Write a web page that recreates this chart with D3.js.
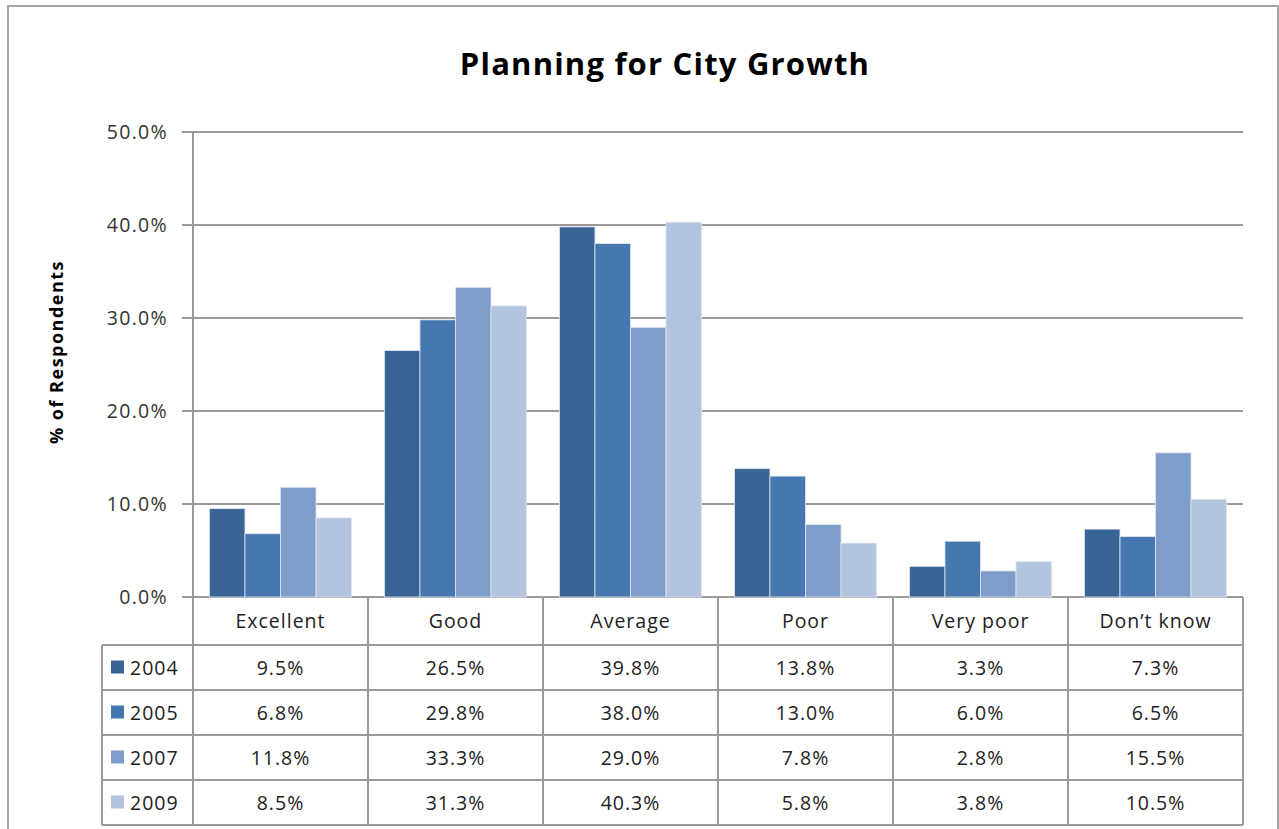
<!DOCTYPE html>
<html>
<head>
<meta charset="utf-8">
<script src="https://cdn.jsdelivr.net/npm/d3@7"></script>
<style>
  html, body { margin: 0; padding: 0; background: #fff; }
  svg { display: block; }
  text { font-family: "Open Sans", Lato, sans-serif; }
</style>
</head>
<body>
<svg id="chart" width="1279" height="829"></svg>
<script>
const categories = ["Excellent", "Good", "Average", "Poor", "Very poor", "Don\u2019t know"];
const years = ["2004", "2005", "2007", "2009"];
const v2004 = [9.5, 26.5, 39.8, 13.8, 3.3, 7.3];
const v2005 = [6.8, 29.8, 38.0, 13.0, 6.0, 6.5];
const v2007 = [11.8, 33.3, 29.0, 7.8, 2.8, 15.5];
const v2009 = [8.5, 31.3, 40.3, 5.8, 3.8, 10.5];
const yTicks = [0, 10, 20, 30, 40, 50];
const colors = ["#3b6496", "#4677b0", "#7e9dc8", "#b4c4df"];

const seriesVals = [v2004, v2005, v2007, v2009];
const series = years.map((y, i) => ({ year: y, values: seriesVals[i], color: colors[i] }));

const svg = d3.select("#chart");
const L = 193, R = 1243, T = 132, B = 597;
const grid = "#9a9a9a";
const FS = 19.5;
const LS = 1;

// outer frame
svg.append("rect").attr("x", 8).attr("y", 6).attr("width", 1270).attr("height", 840)
  .attr("fill", "#fff").attr("stroke", "#a6a6a6").attr("stroke-width", 2);

const x = d3.scaleBand().domain(categories).range([L, R]).padding(0);
const xi = d3.scaleBand().domain(years)
  .range([x.bandwidth() * 0.094, x.bandwidth() * 0.906]).padding(0);
const y = d3.scaleLinear().domain([0, 50]).range([B, T]);

// gridlines
svg.append("g").selectAll("line").data(yTicks).join("line")
  .attr("x1", L - 11).attr("x2", R)
  .attr("y1", d => y(d)).attr("y2", d => y(d))
  .attr("stroke", grid).attr("stroke-width", 2);

// y axis line
svg.append("line").attr("x1", L).attr("x2", L).attr("y1", T).attr("y2", B)
  .attr("stroke", grid).attr("stroke-width", 2);

// y axis labels
const yAxis = d3.axisLeft(y).tickValues(yTicks).tickFormat(d => d3.format(".1f")(d) + "%").tickSize(0).tickPadding(25);
const ga = svg.append("g").attr("transform", `translate(${L},0)`).call(yAxis);
ga.select(".domain").remove();
ga.selectAll("text").attr("font-size", FS).attr("fill", "#333")
  .attr("font-family", "'Open Sans', sans-serif").attr("letter-spacing", LS + 0.3);

// bars
const groups = svg.append("g").selectAll("g").data(categories).join("g")
  .attr("transform", d => `translate(${x(d)},0)`);
groups.selectAll("rect").data((c, ci) => series.map(s => ({ year: s.year, v: s.values[ci], color: s.color })))
  .join("rect")
  .attr("x", d => xi(d.year))
  .attr("width", xi.bandwidth())
  .attr("y", d => y(d.v))
  .attr("height", d => y(0) - y(d.v))
  .attr("fill", d => d.color)
  .attr("stroke", "#dfe6f1").attr("stroke-width", 0.8);

// title
svg.append("text").attr("x", 665).attr("y", 75).attr("text-anchor", "middle")
  .attr("font-size", 31).attr("font-weight", "bold").attr("fill", "#000")
  .attr("letter-spacing", 1.2)
  .text("Planning for City Growth");

// y axis title
svg.append("text").attr("transform", "translate(63,352) rotate(-90)")
  .attr("text-anchor", "middle").attr("font-size", 18).attr("font-weight", "bold")
  .attr("fill", "#000").attr("letter-spacing", 1.5).text("% of Respondents");

// data table
const tableL = 102, headerB = 645, rowH = 45;
const tg = svg.append("g");
tg.selectAll("text.cat").data(categories).join("text")
  .attr("class", "cat")
  .attr("x", d => x(d) + x.bandwidth() / 2).attr("y", 628)
  .attr("text-anchor", "middle").attr("font-size", FS).attr("fill", "#222")
  .attr("letter-spacing", LS)
  .text(d => d);
const vlines = categories.map(c => x(c)).concat([R]);
tg.selectAll("line.hv").data(vlines).join("line")
  .attr("x1", d => d).attr("x2", d => d).attr("y1", B).attr("y2", headerB + rowH * 4)
  .attr("stroke", grid).attr("stroke-width", 2);
tg.append("line").attr("x1", tableL).attr("x2", tableL).attr("y1", headerB).attr("y2", headerB + rowH * 4)
  .attr("stroke", grid).attr("stroke-width", 2);
tg.selectAll("line.h").data(d3.range(5)).join("line")
  .attr("x1", tableL).attr("x2", R)
  .attr("y1", i => headerB + i * rowH).attr("y2", i => headerB + i * rowH)
  .attr("stroke", grid).attr("stroke-width", 2);
const rows = tg.selectAll("g.row").data(series).join("g")
  .attr("transform", (d, i) => `translate(0,${headerB + i * rowH})`);
rows.append("rect").attr("x", 111).attr("y", rowH / 2 - 7).attr("width", 13).attr("height", 13)
  .attr("fill", d => d.color);
rows.append("text").attr("x", 130).attr("y", rowH / 2 + 7).attr("font-size", FS).attr("fill", "#222")
  .attr("letter-spacing", LS)
  .text(d => d.year);
rows.selectAll("text.val").data(d => d.values.map((v, i) => ({ v, c: categories[i] }))).join("text")
  .attr("class", "val")
  .attr("x", d => x(d.c) + x.bandwidth() / 2).attr("y", rowH / 2 + 7)
  .attr("text-anchor", "middle").attr("font-size", FS).attr("fill", "#222")
  .attr("letter-spacing", LS)
  .text(d => d3.format(".1f")(d.v) + "%");
</script>
</body>
</html>
